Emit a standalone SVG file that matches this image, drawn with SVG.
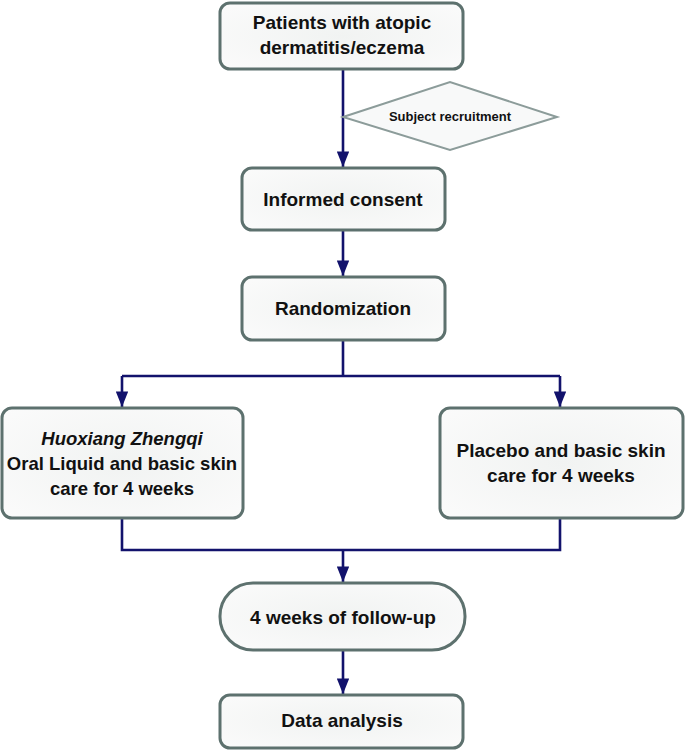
<svg xmlns="http://www.w3.org/2000/svg" width="685" height="750" viewBox="0 0 685 750">
<style>
.box{fill:url(#g);stroke:#5d716e;stroke-width:3}
.dia{fill:#f8f9f9;stroke:#8c9c9a;stroke-width:2}
.t{font-family:"Liberation Sans",Arial,sans-serif;font-weight:bold;font-size:19px;fill:#111;text-anchor:middle}
.m{font-size:18.5px}
.s{font-size:13px}
.c{fill:none;stroke:#12126c;stroke-width:2.6}
</style>
<defs>
<radialGradient id="g" cx="0.5" cy="0.5" r="0.7">
<stop offset="0" stop-color="#f1f3f2"/>
<stop offset="1" stop-color="#fbfbfb"/>
</radialGradient>
<marker id="a" viewBox="0 0 10 10" refX="10" refY="5" markerWidth="6" markerHeight="4.8" markerUnits="strokeWidth" orient="auto" preserveAspectRatio="none">
<path d="M0,0 L10,5 L0,10 z" fill="#12126c"/>
</marker>
</defs>
<g id="connectors">
<path class="c" d="M343,70 V167" marker-end="url(#a)"/>
<path class="c" d="M343,231 V276" marker-end="url(#a)"/>
<path class="c" d="M343,341 V376 M122,376 H560"/>
<path class="c" d="M122,376 V407" marker-end="url(#a)"/>
<path class="c" d="M560,376 V407" marker-end="url(#a)"/>
<path class="c" d="M122,519 V550 H560 V519"/>
<path class="c" d="M343,550 V582" marker-end="url(#a)"/>
<path class="c" d="M343,651 V694" marker-end="url(#a)"/>
</g>
<g id="n1"><rect class="box" x="220" y="3" width="243" height="66" rx="10"/>
<text class="t" x="342" y="29">Patients with atopic</text>
<text class="t" x="342" y="54">dermatitis/eczema</text></g>
<g id="n2"><polygon class="dia" points="343,117 450,82 557,117 450,150"/>
<text class="t s" x="450" y="121">Subject recruitment</text></g>
<g id="n3"><rect class="box" x="242" y="168" width="203" height="62" rx="10"/>
<text class="t" x="343" y="206">Informed consent</text></g>
<g id="n4"><rect class="box" x="242" y="277" width="203" height="63" rx="10"/>
<text class="t" x="343" y="315">Randomization</text></g>
<g id="n5"><rect class="box" x="2" y="408" width="241" height="110" rx="10"/>
<text class="t m" x="122" y="445" font-style="italic">Huoxiang Zhengqi</text>
<text class="t m" x="122" y="470">Oral Liquid and basic skin</text>
<text class="t m" x="122" y="495">care for 4 weeks</text></g>
<g id="n6"><rect class="box" x="440" y="408" width="243" height="110" rx="10"/>
<text class="t" x="561" y="457">Placebo and basic skin</text>
<text class="t" x="561" y="482">care for 4 weeks</text></g>
<g id="n7"><rect class="box" x="220" y="583" width="245" height="67" rx="33"/>
<text class="t" x="343" y="624">4 weeks of follow-up</text></g>
<g id="n8"><rect class="box" x="220" y="695" width="243" height="53" rx="10"/>
<text class="t" x="342" y="727">Data analysis</text></g>
</svg>
